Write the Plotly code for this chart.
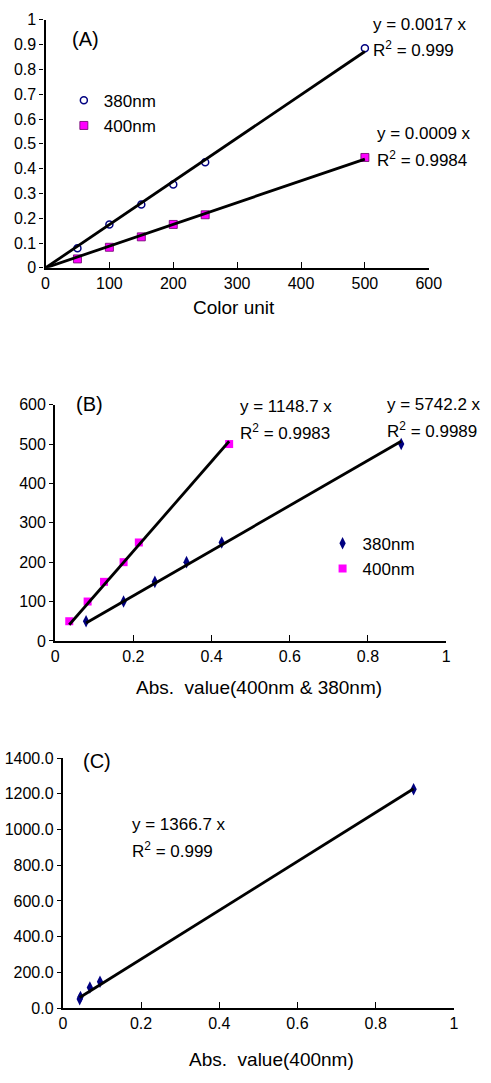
import numpy as np
import plotly.graph_objects as go

# ---- data ----
color_units = [50, 100, 150, 200, 250, 500]
abs_380 = [0.079, 0.175, 0.255, 0.336, 0.426, 0.885]
abs_400 = [0.036, 0.083, 0.125, 0.175, 0.214, 0.445]

abs_c = [0.043, 0.045, 0.069, 0.095, 0.897]
color_c = [50, 62, 115, 147, 1225]

W, H = 491, 1083
FONT = "Arial, 'Liberation Sans', sans-serif"
NAVY = "#000080"
MAGENTA = "#FF00FF"


def px(x):
    return x / W


def py(y):
    return 1 - y / H


def slope0(x, y):
    """Least-squares slope of a line forced through the origin."""
    x = np.asarray(x, float)
    y = np.asarray(y, float)
    return float((x * y).sum() / (x * x).sum())


fig = go.Figure()

# ---- (A) absorbance vs colour unit ----
fig.add_trace(go.Scatter(x=color_units, y=abs_380, mode="markers", name="380nm",
                         marker=dict(symbol="circle-open", size=7, color=NAVY, line=dict(width=1.5, color=NAVY)),
                         xaxis="x", yaxis="y", legend="legend", cliponaxis=False))
fig.add_trace(go.Scatter(x=color_units, y=abs_400, mode="markers", name="400nm",
                         marker=dict(symbol="square", size=8, color=MAGENTA, line=dict(width=0.8, color="#660066")),
                         xaxis="x", yaxis="y", legend="legend", cliponaxis=False))
for yy in (abs_380, abs_400):
    k = slope0(color_units, yy)
    xs = np.array([0, max(color_units)])
    fig.add_trace(go.Scatter(x=xs, y=k * xs, mode="lines", line=dict(color="black", width=2.8),
                             showlegend=False, xaxis="x", yaxis="y", hoverinfo="skip"))

# ---- (B) colour unit vs absorbance ----
for ab, name, mk in ((abs_380, "380nm", dict(symbol="diamond-tall", size=9, color=NAVY)),
                     (abs_400, "400nm", dict(symbol="square", size=8, color=MAGENTA))):
    fig.add_trace(go.Scatter(x=ab, y=color_units, mode="markers", name=name, marker=mk,
                             xaxis="x2", yaxis="y2", legend="legend2", cliponaxis=False))
for ab in (abs_380, abs_400):
    k = slope0(ab, color_units)
    xs = np.array([min(ab), max(ab)])
    fig.add_trace(go.Scatter(x=xs, y=k * xs, mode="lines", line=dict(color="black", width=2.8),
                             showlegend=False, xaxis="x2", yaxis="y2", hoverinfo="skip"))

# ---- (C) colour unit vs absorbance at 400nm ----
fig.add_trace(go.Scatter(x=abs_c, y=color_c, mode="markers", showlegend=False,
                         marker=dict(symbol="diamond-tall", size=9, color=NAVY),
                         xaxis="x3", yaxis="y3", cliponaxis=False))
k = slope0(abs_c, color_c)
xs = np.array([min(abs_c), max(abs_c)])
fig.add_trace(go.Scatter(x=xs, y=k * xs, mode="lines", line=dict(color="black", width=2.8),
                         showlegend=False, xaxis="x3", yaxis="y3", hoverinfo="skip"))

# ---- axes ----
tickfont = dict(family=FONT, size=16, color="black")
xcommon = dict(showline=True, linecolor="black", linewidth=2.2, ticks="inside", ticklen=6,
               tickwidth=1.2, tickcolor="black", showgrid=False, zeroline=False,
               tickfont=tickfont)
ycommon = dict(showline=True, linecolor="black", linewidth=2.2, ticks="outside", ticklen=4,
               tickwidth=1.2, tickcolor="black", showgrid=False, zeroline=False,
               tickfont=tickfont)

fig.update_layout(
    xaxis=dict(xcommon, domain=[px(43), px(440)], range=[0, 600], dtick=100, anchor="y"),
    yaxis=dict(ycommon, domain=[py(264), py(12)], range=[0, 1], dtick=0.1, anchor="x"),
    xaxis2=dict(xcommon, domain=[px(53), px(458)], range=[0, 1], dtick=0.2, anchor="y2"),
    yaxis2=dict(ycommon, domain=[py(643), py(403)], range=[0, 600], dtick=100, anchor="x2"),
    xaxis3=dict(xcommon, domain=[px(61), px(466)], range=[0, 1], dtick=0.2, anchor="y3"),
    yaxis3=dict(ycommon, domain=[py(1016), py(762)], range=[0, 1400], dtick=200,
                tickformat=".1f", anchor="x3"),
)

legfont = dict(family=FONT, size=17, color="black")
fig.update_layout(
    legend=dict(x=px(62), y=py(76), xanchor="left", yanchor="top", font=legfont,
                bgcolor="rgba(0,0,0,0)", itemwidth=30, tracegroupgap=0),
    legend2=dict(x=px(330), y=py(526), xanchor="left", yanchor="top", font=legfont,
                 bgcolor="rgba(0,0,0,0)", itemwidth=30, tracegroupgap=0),
)

# ---- text ----
notes = [
    ("(A)", 68, 32, 20), ("(B)", 72, 402, 20), ("(C)", 80, 765, 20),
    ("y = 0.0017 x", 380, 17, 17), ("R<sup>2</sup> = 0.999", 380, 42, 17),
    ("y = 0.0009 x", 384, 128, 17), ("R<sup>2</sup> = 0.9984", 384, 153, 17),
    ("y = 1148.7 x", 242, 405, 17), ("R<sup>2</sup> = 0.9983", 242, 431, 17),
    ("y = 5742.2 x", 395, 403, 17), ("R<sup>2</sup> = 0.9989", 395, 429, 17),
    ("y = 1366.7 x", 131, 830, 17), ("R<sup>2</sup> = 0.999", 131, 855, 17),
]
for text, x, y, s in notes:
    fig.add_annotation(text=text, x=px(x), y=py(y), xref="paper", yref="paper",
                       xanchor="left", yanchor="middle", showarrow=False,
                       font=dict(family=FONT, size=s, color="black"))

titles = [("Color unit", 238, 304), ("Abs.  value(400nm & 380nm)", 264, 690),
          ("Abs.  value(400nm)", 277, 1068)]
for text, x, y in titles:
    fig.add_annotation(text=text, x=px(x), y=py(y), xref="paper", yref="paper",
                       xanchor="center", yanchor="middle", showarrow=False,
                       font=dict(family=FONT, size=19, color="black"))

fig.update_layout(width=W, height=H, margin=dict(l=0, r=0, t=0, b=0),
                  paper_bgcolor="white", plot_bgcolor="white")

fig.write_html("out.html")
